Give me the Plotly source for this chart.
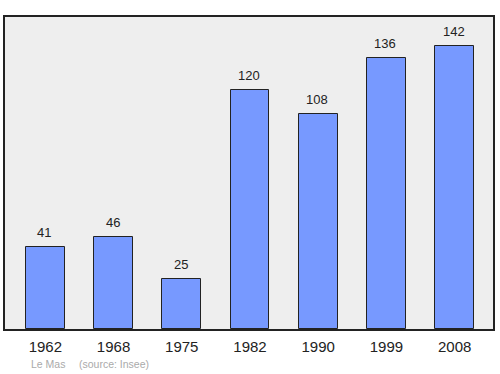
import plotly.graph_objects as go

years = ["1962", "1968", "1975", "1982", "1990", "1999", "2008"]
population = [41, 46, 25, 120, 108, 136, 142]
place = "Le Mas"
source = "(source: Insee)"

xs = list(range(len(years)))

fig = go.Figure()
fig.add_trace(go.Bar(
    x=xs, y=population, width=0.57,
    marker=dict(color="#7799ff", line=dict(color="#222222", width=1)),
    hoverinfo="skip",
))

for x, v in zip(xs, population):
    fig.add_annotation(x=x, y=v, text=str(v), showarrow=False,
                       yanchor="bottom", yshift=5, xshift=-1,
                       font=dict(family="Liberation Sans, Arial", size=13, color="#222222"))

fig.add_annotation(xref="paper", yref="paper", x=0.05, y=-0.085, yanchor="top", xanchor="left",
                   text=place, showarrow=False,
                   font=dict(family="Liberation Sans, Arial", size=10.5, color="#aaaaaa"))
fig.add_annotation(xref="paper", yref="paper", x=0.147, y=-0.085, yanchor="top", xanchor="left",
                   text=source, showarrow=False,
                   font=dict(family="Liberation Sans, Arial", size=10.5, color="#aaaaaa"))

fig.update_layout(
    width=500, height=374,
    margin=dict(l=5, r=5, t=17, b=45),
    paper_bgcolor="white", plot_bgcolor="#eeeeee",
    showlegend=False,
    font=dict(family="Liberation Sans, Arial", color="#222222"),
    xaxis=dict(range=[-0.591, 6.562], tickvals=xs, ticktext=years,
               showgrid=False, zeroline=False, showline=True, mirror=True,
               linecolor="#222222", linewidth=1.5, ticks="", ticklabelstandoff=3,
               tickfont=dict(size=15, color="#222222")),
    yaxis=dict(range=[0, 156.4], showticklabels=False, showgrid=False, zeroline=False,
               showline=True, mirror=True, linecolor="#222222", linewidth=1.5, ticks=""),
    bargap=0,
)

fig.write_html("out.html")
